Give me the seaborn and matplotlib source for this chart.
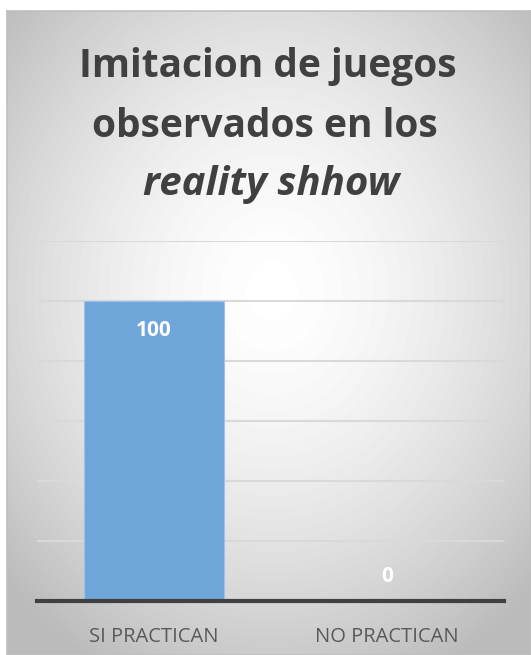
import numpy as np
import pandas as pd
import matplotlib
matplotlib.use("Agg")
import matplotlib.pyplot as plt
import seaborn as sns

# Datos del gráfico
categorias = ["SI PRACTICAN", "NO PRACTICAN"]
valores = [100, 0]
titulo_l1 = "Imitacion de juegos"
titulo_l2 = "observados en los"
titulo_l3 = "reality shhow"

df = pd.DataFrame({"Categoria": categorias, "Valor": valores})

sns.set_theme(style="white")
plt.rcParams["font.family"] = ["Open Sans", "DejaVu Sans"]

W, H = 531, 655
fig = plt.figure(figsize=(W / 100, H / 100), dpi=100)
fig.patch.set_facecolor("white")

# Fondo con degradado radial
bg = fig.add_axes([7 / W, 0, 1 - 7 / W, (H - 11) / H])
yy, xx = np.mgrid[0:644, 0:524]
cx, cy = 265, 280
r = np.sqrt(((xx - cx) / 330.0) ** 2 + ((yy - cy) / 390.0) ** 2)
grad = 1.0 - 0.23 * np.clip(r, 0, 1.1) ** 1.6
bg.imshow(grad, cmap="gray", vmin=0, vmax=1, aspect="auto",
          extent=[0, 1, 0, 1], origin="upper")
bg.set_xticks([])
bg.set_yticks([])
for s in bg.spines.values():
    s.set_color("#bfbfbf")
    s.set_linewidth(1.2)

# Gráfico de barras
ax = fig.add_axes([37 / W, 54 / H, 467 / W, 360 / H])
ax.set_facecolor("none")
sns.barplot(data=df, x="Categoria", y="Valor", color="#6fa6da",
            saturation=1, width=0.6, ax=ax, zorder=3,
            edgecolor="#9fc3e8", linewidth=0.8)
ax.set_ylim(0, 120)
ax.set_yticks(range(0, 121, 20))
ax.yaxis.grid(True, color="#d9d9d9", linewidth=1.5, zorder=0)
ax.set_axisbelow(True)
ax.tick_params(axis="y", left=False, labelleft=False)
ax.tick_params(axis="x", bottom=False, labelsize=14.5, colors="#595959", pad=13)
ax.set_xlabel("")
ax.set_ylabel("")
for s in ["top", "right", "left"]:
    ax.spines[s].set_visible(False)
ax.spines["bottom"].set_color("#404040")
ax.spines["bottom"].set_linewidth(3)
ax.spines["bottom"].set_zorder(4)

for i, v in enumerate(valores):
    off = -21 if v > 10 else 18
    ax.annotate(f"{v}", xy=(i, v), xytext=(0, off), textcoords="offset points",
                ha="center", va="center", color="white", fontsize=15,
                fontweight="bold", zorder=5)

# Título
tx = 268 / W
fig.text(tx, 1 - 77 / H, titulo_l1, ha="center", va="baseline",
         fontsize=28, fontweight="bold", color="#404040")
fig.text(tx - 3 / W, 1 - 137 / H, titulo_l2, ha="center", va="baseline",
         fontsize=28, fontweight="bold", color="#404040")
fig.text(tx + 3 / W, 1 - 195 / H, titulo_l3, ha="center", va="baseline",
         fontsize=29, fontweight="bold", fontstyle="italic", color="#404040")

fig.savefig("out.png", dpi=100)
